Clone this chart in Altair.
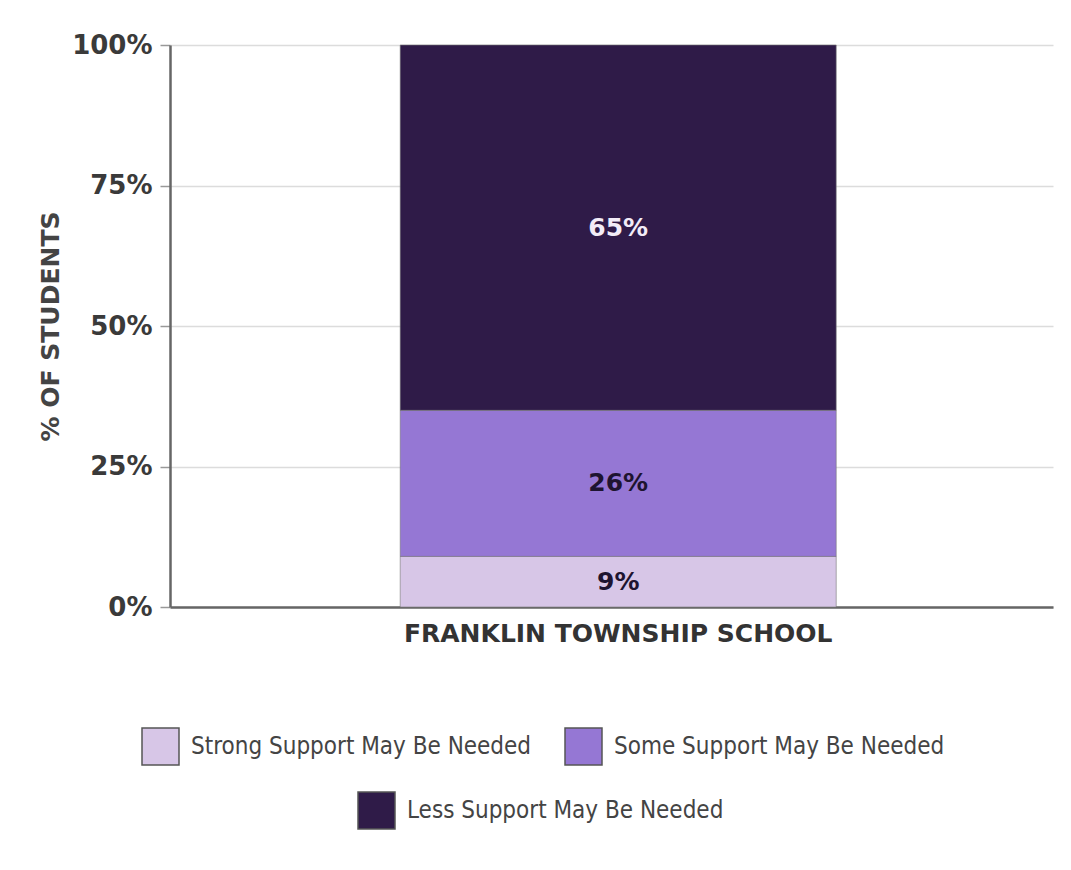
import altair as alt
import pandas as pd

schools = ["FRANKLIN TOWNSHIP SCHOOL"]
categories = ["Strong Support May Be Needed", "Some Support May Be Needed", "Less Support May Be Needed"]
values = [9, 26, 65]
colors = ["#d7c6e7", "#9577d4", "#2f1b48"]
y_ticks = [0, 25, 50, 75, 100]

df = pd.DataFrame({
    "school": [schools[0]] * len(categories),
    "category": categories,
    "value": values,
    "order": list(range(len(categories))),
})

FONT_B = "DejaVu Sans"
LEG_FONT = "Liberation Sans Narrow, DejaVu Sans Condensed, Liberation Sans"

x_enc = alt.X(
    "school:N",
    title=None,
    scale=alt.Scale(paddingInner=0, paddingOuter=0.5126, align=0.515),
    axis=alt.Axis(
        labelAngle=0, labelFont=FONT_B, labelFontWeight="bold", labelFontSize=25,
        labelColor="#333", labelPadding=14, labelLimit=800, ticks=False, domainColor="#666",
        domainWidth=2.5, grid=False,
    ),
)

y_axis = alt.Axis(
    values=y_ticks, labelExpr="datum.value + '%'", labelFont=FONT_B,
    labelFontWeight="bold", labelFontSize=26, labelColor="#3a3a3a", labelPadding=8,
    tickSize=10, tickColor="#999", tickWidth=1.5, domainColor="#666", domainWidth=2.5,
    gridColor="#dcdcdc", gridWidth=1.5, title="% OF STUDENTS", titleFont=FONT_B,
    titleFontWeight="bold", titleFontSize=25, titleColor="#444", titleAngle=270,
    titleX=-120, titleY=281, titleAlign="center", titleBaseline="middle",
)
y_scale = alt.Scale(domain=[0, 100], nice=False)

legend_common = dict(
    title=None, orient="none", direction="horizontal", symbolType="square",
    symbolSize=1369, symbolStrokeColor="#555", symbolStrokeWidth=1.5,
    symbolOpacity=1, labelFont=LEG_FONT, labelFontSize=24, labelColor="#444",
    labelOffset=11, columnPadding=30, padding=0, labelLimit=500,
)

base = alt.Chart(df).transform_stack(
    stack="value", groupby=["school"], as_=["y0", "y1"],
    sort=[alt.SortField("order", order="ascending")],
).transform_calculate(
    mid="(datum.y0 + datum.y1) / 2",
    label="datum.value + '%'",
)

bar_style = dict(stroke="#777", strokeWidth=1, strokeOpacity=0.6)

bars_a = base.transform_filter("datum.order < 2").mark_bar(**bar_style).encode(
    x=x_enc,
    y=alt.Y("y0:Q", scale=y_scale, axis=y_axis),
    y2="y1:Q",
    color=alt.Color(
        "category:N",
        scale=alt.Scale(domain=categories[:2], range=colors[:2]),
        legend=alt.Legend(legendX=-29, legendY=682, **legend_common),
    ),
)

bars_b = base.transform_filter("datum.order == 2").mark_bar(**bar_style).encode(
    x=x_enc,
    y=alt.Y("y0:Q", scale=y_scale, axis=y_axis),
    y2="y1:Q",
    fill=alt.Fill(
        "category:N",
        scale=alt.Scale(domain=categories[2:], range=colors[2:]),
        legend=alt.Legend(legendX=187, legendY=746, **legend_common),
    ),
)

labels = base.mark_text(font=FONT_B, fontWeight="bold", fontSize=25, baseline="middle").encode(
    x=x_enc,
    y=alt.Y("mid:Q", scale=y_scale, axis=y_axis),
    text="label:N",
    color=alt.condition("datum.order == 2", alt.value("#f2ecf7"), alt.value("#1e1430")),
)

chart = alt.layer(bars_a, bars_b, labels).properties(
    width=883, height=562,
    padding={"left": 162, "top": 37, "right": 10, "bottom": 255},
    autosize=alt.AutoSizeParams(type="none"),
    background="white",
).configure_view(stroke=None)

chart.save("out.html", embed_options={"renderer": "svg", "actions": False})
